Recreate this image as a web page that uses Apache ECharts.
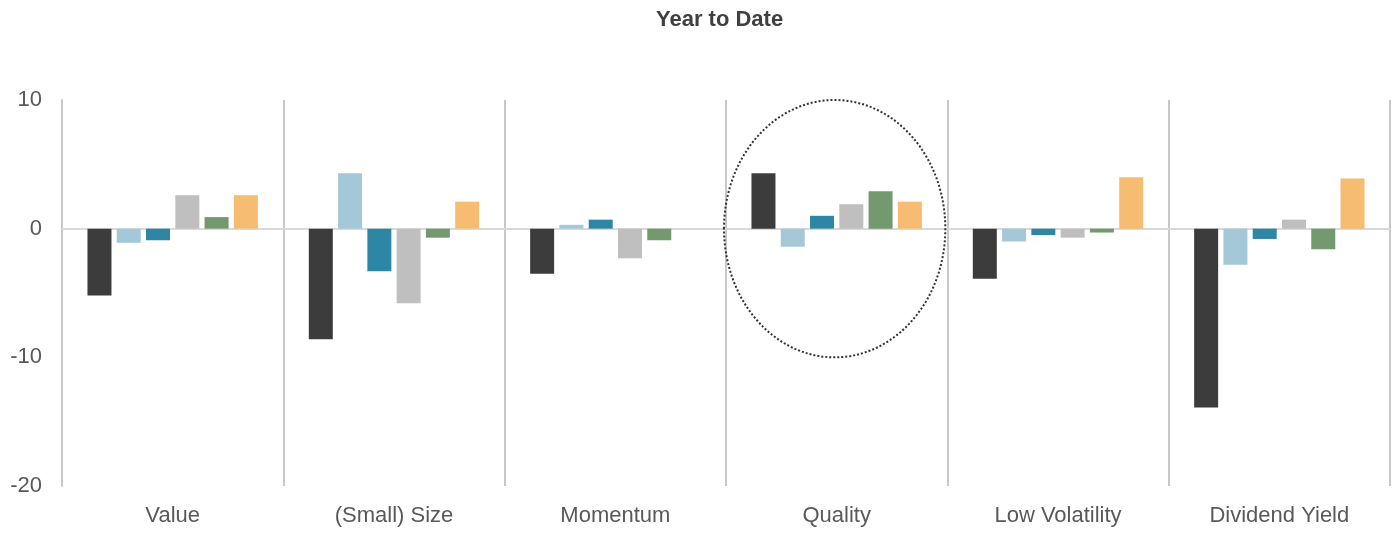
<!DOCTYPE html>
<html>
<head>
<meta charset="utf-8">
<script src="https://cdn.jsdelivr.net/npm/echarts@6/dist/echarts.min.js"></script>
<style>
  html, body { margin: 0; padding: 0; background: #ffffff; }
  #chart { width: 1398px; height: 533px; }
</style>
</head>
<body>
<div id="chart"></div>
<script>
// Factor categories along the x axis
const categories = ['Value', '(Small) Size', 'Momentum', 'Quality', 'Low Volatility', 'Dividend Yield'];

// Year-to-date returns (%) for each of the six series, one value per factor
const series1 = [-5.2, -8.6, -3.5, 4.3, -3.9, -13.9];
const series2 = [-1.1, 4.3, 0.3, -1.4, -1.0, -2.8];
const series3 = [-0.9, -3.3, 0.7, 1.0, -0.5, -0.8];
const series4 = [2.6, -5.8, -2.3, 1.9, -0.7, 0.7];
const series5 = [0.9, -0.7, -0.9, 2.9, -0.3, -1.6];
const series6 = [2.6, 2.1, 0, 2.1, 4.0, 3.9];

// Y axis range and tick step
const yMin = -20;
const yMax = 10;
const yStep = 10;

// Highlighted factor (dotted ellipse) and its vertical extent
const highlightCategory = 'Quality';
const highlightTop = 10;
const highlightBottom = -10;

const colors = ['#3c3c3c', '#a5c8d8', '#2e86a5', '#bfbfbf', '#73996e', '#f6bd72'];
const allSeries = [series1, series2, series3, series4, series5, series6];

const chart = echarts.init(document.getElementById('chart'), null, { renderer: 'canvas' });

const seriesOpts = allSeries.map((vals, i) => {
  const s = {
    type: 'bar',
    data: vals,
    barWidth: 24,
    barGap: '22%',
    itemStyle: { color: colors[i] },
    emphasis: { disabled: true },
    silent: true,
    z: 3
  };
  if (i === 0) {
    s.markLine = {
      silent: true,
      symbol: 'none',
      label: { show: false },
      lineStyle: { color: '#d9d9d9', width: 2, type: 'solid' },
      data: [{ yAxis: 0 }],
      z: 1
    };
  }
  return s;
});

const font = 'Liberation Sans, Arial, sans-serif';

chart.setOption({
  animation: false,
  backgroundColor: '#ffffff',
  title: {
    text: 'Year to Date',
    left: 651,
    top: 4,
    textStyle: {
      fontFamily: font,
      fontSize: 22,
      fontWeight: 'bold',
      color: '#404040'
    }
  },
  grid: { left: 62, right: 8, top: 100, bottom: 47, containLabel: false },
  xAxis: {
    type: 'category',
    data: categories,
    boundaryGap: true,
    axisLine: { show: false, onZero: false },
    axisTick: { show: false },
    splitLine: { show: true, interval: 0, lineStyle: { color: '#c8c8c8', width: 2 } },
    axisLabel: {
      interval: 0,
      margin: 19,
      fontFamily: font,
      fontSize: 22,
      color: '#595959'
    }
  },
  yAxis: {
    type: 'value',
    min: yMin,
    max: yMax,
    interval: yStep,
    axisLine: { show: true, lineStyle: { color: '#c8c8c8', width: 2 } },
    axisTick: { show: false },
    splitLine: { show: false },
    axisLabel: {
      margin: 20,
      fontFamily: font,
      fontSize: 22,
      color: '#595959'
    }
  },
  series: seriesOpts
});

// Dotted ellipse around the highlighted factor, placed from the axis scales
function drawHighlight() {
  const finder = { xAxisIndex: 0, yAxisIndex: 0 };
  const idx = categories.indexOf(highlightCategory);
  const c = chart.convertToPixel(finder, [idx, 0]);
  const prev = chart.convertToPixel(finder, [idx - 1, 0]);
  const top = chart.convertToPixel(finder, [idx, highlightTop]);
  const bottom = chart.convertToPixel(finder, [idx, highlightBottom]);
  const catHalf = Math.abs(c[0] - prev[0]) / 2;
  chart.setOption({
    graphic: [{
      type: 'ellipse',
      silent: true,
      z: 10,
      shape: {
        cx: c[0] - 2,
        cy: (top[1] + bottom[1]) / 2,
        rx: catHalf,
        ry: Math.abs(bottom[1] - top[1]) / 2
      },
      style: {
        fill: 'none',
        stroke: '#333333',
        lineWidth: 2,
        lineDash: [2, 2]
      }
    }]
  });
}
drawHighlight();
</script>
</body>
</html>
